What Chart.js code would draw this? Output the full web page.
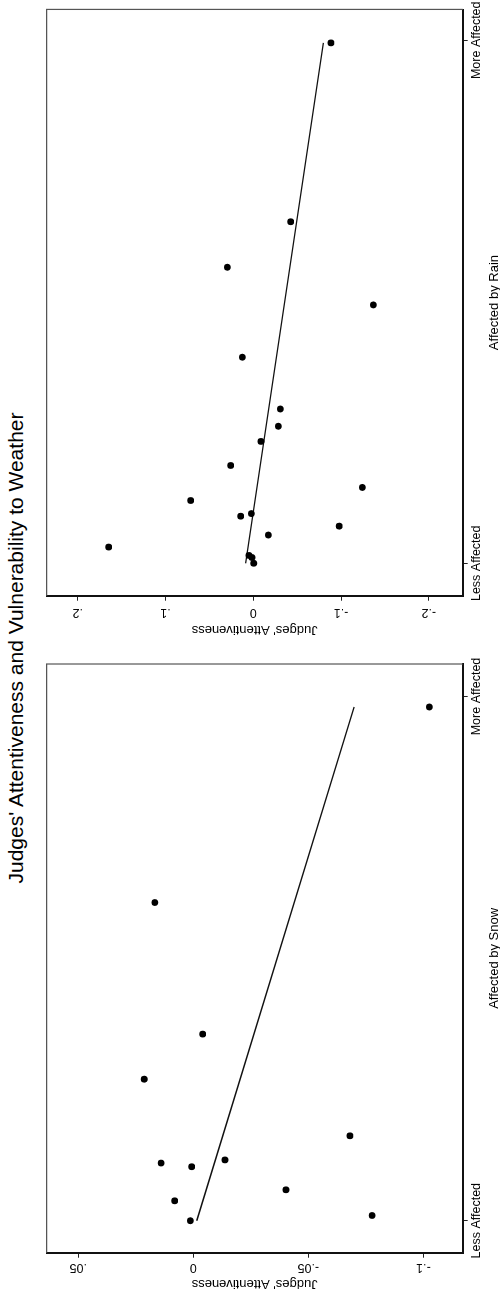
<!DOCTYPE html>
<html>
<head>
<meta charset="utf-8">
<script src="https://cdn.jsdelivr.net/npm/chart.js@4/dist/chart.umd.min.js"></script>
<style>
  html, body { margin: 0; padding: 0; background: #fff; overflow: hidden; }
  body { width: 500px; height: 1296px; position: relative; }
  /* The figure is laid out in landscape and turned a quarter turn counter-clockwise */
  #fig {
    position: absolute; left: 0; top: 0;
    width: 1296px; height: 500px;
    background: #fff;
    transform-origin: 0 0;
    transform: translate(0, 1296px) rotate(-90deg);
  }
  #title {
    position: absolute; left: 0; top: 5px; width: 1296px;
    text-align: center;
    font-family: "Liberation Sans", Arial, Helvetica, sans-serif;
    font-size: 21px; line-height: 21px; color: #000;
    white-space: nowrap;
  }
  .panel { position: absolute; top: 0; width: 648px; height: 500px; }
  .panel canvas { display: block; }
</style>
</head>
<body>
<div id="fig">
  <div id="title">Judges' Attentiveness and Vulnerability to Weather</div>
  <div class="panel" style="left:0"><canvas id="snow" width="648" height="500" style="width:648px;height:500px"></canvas></div>
  <div class="panel" style="left:648px"><canvas id="rain" width="648" height="500" style="width:648px;height:500px"></canvas></div>
</div>
<script>
// Horizontal axis: exposure to the weather event, labelled only at its two ends
const affectedTicks = [0, 1];
const affectedLabels = ['Less Affected', 'More Affected'];

// Snow panel
const snowAffected      = [0.356, 0.270, 0.162, 0.110, 0.103, 0.116, 0.059, 0.038, 0.000, 0.010, 0.607, 0.980];
const snowAttentiveness = [-0.0041, 0.0213, -0.0681, 0.0140, 0.0007, -0.0138, -0.0403, 0.0081, 0.0013, -0.0777, 0.0167, -0.1026];
const snowFitX = [0.000, 0.980];
const snowFitY = [-0.0015, -0.0699];
const snowTicks = [0.05, 0, -0.05, -0.1];

// Rain panel
const rainAffected      = [0.995, 0.653, 0.566, 0.494, 0.394, 0.295, 0.262, 0.233, 0.187, 0.145, 0.120, 0.095, 0.090, 0.071, 0.054, 0.031, 0.015, 0.011, 0.000];
const rainAttentiveness = [-0.0885, -0.0426, 0.0296, -0.1368, 0.0125, -0.0308, -0.0285, -0.0088, 0.0258, -0.1242, 0.0714, 0.0023, 0.0144, -0.0979, -0.0171, 0.1648, 0.0049, 0.0015, -0.0005];
const rainFitX = [0.000, 0.995];
const rainFitY = [0.0087, -0.0798];
const rainTicks = [0.2, 0.1, 0, -0.1, -0.2];

const FONT = '"Liberation Sans", Arial, Helvetica, sans-serif';

// Stata-style numbers: ".05", "-.1", "0"
function fmt(v) {
  return String(+v.toFixed(4)).replace(/^(-?)0\./, '$1.');
}

// Vertical y tick labels, axis titles and the plot-region frame
const axisText = {
  id: 'axisText',
  afterDraw(chart, args, o) {
    const { ctx, chartArea: a, scales: { y } } = chart;
    ctx.save();
    ctx.fillStyle = '#000';
    ctx.textAlign = 'center';
    ctx.textBaseline = 'alphabetic';

    ctx.font = '12.5px ' + FONT;
    y.ticks.forEach(t => {
      const py = y.getPixelForValue(t.value);
      ctx.save();
      ctx.translate(o.tickX, py);
      ctx.rotate(-Math.PI / 2);
      ctx.fillText(fmt(t.value), 0, 0);
      ctx.restore();
    });

    ctx.font = '13px ' + FONT;
    ctx.save();
    ctx.translate(o.yTitleX, (a.top + a.bottom) / 2);
    ctx.rotate(-Math.PI / 2);
    ctx.fillText(o.yTitle, 0, 0);
    ctx.restore();

    ctx.fillText(o.xTitle, (a.left + a.right) / 2, o.xTitleY);

    // top and right edges of the plot region
    ctx.strokeStyle = '#555';
    ctx.lineWidth = 1.2;
    ctx.beginPath();
    ctx.moveTo(a.left, a.top);
    ctx.lineTo(a.right, a.top);
    ctx.lineTo(a.right, a.bottom);
    ctx.stroke();
    ctx.restore();
  }
};

function makePanel(id, xs, ys, fitX, fitY, yTicks, yMin, yMax, xMin, xMax, geom, xTitle) {
  const points = xs.map((x, i) => ({ x: x, y: ys[i] }));
  const fit = fitX.map((x, i) => ({ x: x, y: fitY[i] }));
  return new Chart(document.getElementById(id), {
    type: 'scatter',
    data: {
      datasets: [
        {
          data: points,
          pointRadius: 3.4,
          pointBackgroundColor: '#000',
          pointBorderWidth: 0,
          pointHoverRadius: 3.4
        },
        {
          data: fit,
          showLine: true,
          borderColor: '#111',
          borderWidth: 1.4,
          pointRadius: 0,
          fill: false
        }
      ]
    },
    options: {
      responsive: false,
      animation: false,
      events: [],
      layout: { padding: { top: geom.top, right: geom.right, left: 0, bottom: 0 } },
      plugins: {
        legend: { display: false },
        tooltip: { enabled: false },
        axisText: { tickX: geom.tickX, yTitleX: geom.yTitleX, xTitleY: geom.xTitleY,
                    yTitle: "Judges' Attentiveness", xTitle: xTitle }
      },
      scales: {
        x: {
          type: 'linear',
          min: xMin, max: xMax,
          afterBuildTicks: s => { s.ticks = affectedTicks.map(v => ({ value: v })); },
          afterFit: s => { s.height = geom.xHeight; },
          ticks: {
            callback: v => affectedLabels[affectedTicks.indexOf(v)],
            color: '#000',
            font: { family: FONT, size: 12.5 },
            padding: 1,
            maxRotation: 0, minRotation: 0,
            autoSkip: false
          },
          grid: { drawOnChartArea: false, drawTicks: true, tickLength: 5, color: '#222', tickWidth: 1 },
          border: { display: true, color: '#111', width: 2 }
        },
        y: {
          type: 'linear',
          min: yMin, max: yMax,
          afterBuildTicks: s => { s.ticks = yTicks.map(v => ({ value: v })); },
          afterFit: s => { s.width = geom.yWidth; },
          ticks: { display: false },
          grid: { drawOnChartArea: false, drawTicks: true, tickLength: 5, color: '#222', tickWidth: 1 },
          border: { display: true, color: '#111', width: 2 }
        }
      }
    },
    plugins: [axisText]
  });
}

makePanel('snow', snowAffected, snowAttentiveness, snowFitX, snowFitY, snowTicks,
  -0.1171, 0.0637, -0.061, 1.062,
  { top: 46.7, right: 16, yWidth: 43.3, xHeight: 37.3, tickX: 31.5, yTitleX: 16, xTitleY: 497.5 },
  'Affected by Snow');

makePanel('rain', rainAffected, rainAttentiveness, rainFitX, rainFitY, rainTicks,
  -0.2386, 0.2354, -0.062, 1.059,
  { top: 46.7, right: 9, yWidth: 52.3, xHeight: 37.3, tickX: 39, yTitleX: 22.4, xTitleY: 497.5 },
  'Affected by Rain');
</script>
</body>
</html>
